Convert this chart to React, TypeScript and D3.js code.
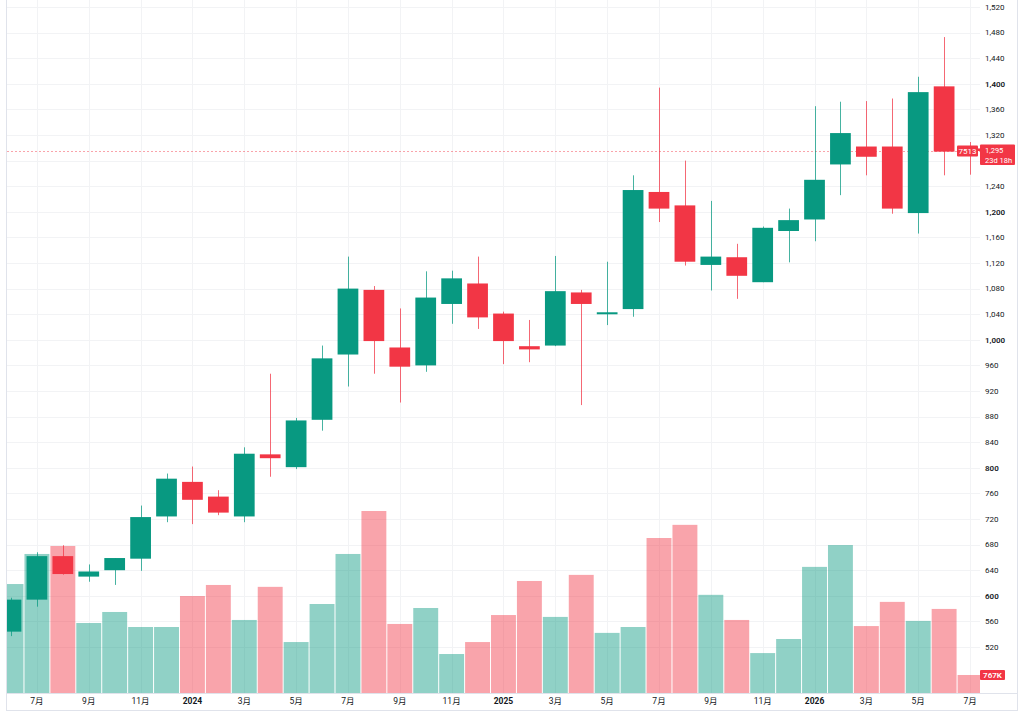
import React, { useEffect, useRef } from 'react';
import * as d3 from 'd3';

// monthly bars, 2023-06 .. 2026-07
const months: string[] = [
  '2023-06', '2023-07', '2023-08', '2023-09', '2023-10', '2023-11', '2023-12',
  '2024-01', '2024-02', '2024-03', '2024-04', '2024-05', '2024-06', '2024-07',
  '2024-08', '2024-09', '2024-10', '2024-11', '2024-12',
  '2025-01', '2025-02', '2025-03', '2025-04', '2025-05', '2025-06', '2025-07',
  '2025-08', '2025-09', '2025-10', '2025-11', '2025-12',
  '2026-01', '2026-02', '2026-03', '2026-04', '2026-05', '2026-06', '2026-07',
];

const opens: number[] = [
  544, 594, 662, 630, 640, 658, 724,
  778, 755, 724, 821, 801, 875, 977, 1078, 988, 960, 1056, 1088,
  1041, 990, 991, 1074, 1040, 1048, 1231, 1210, 1117, 1129, 1090, 1170,
  1188, 1274, 1302, 1302, 1198, 1396, 1299,
];
const highs: number[] = [
  597, 668, 679, 649, 659, 741, 791,
  802, 765, 832, 947, 878, 991, 1130, 1084, 1049, 1107, 1108, 1130,
  1044, 1031, 1131, 1078, 1122, 1257, 1394, 1280, 1217, 1150, 1177, 1205,
  1365, 1372, 1373, 1377, 1411, 1473, 1309,
];
const lows: number[] = [
  537, 583, 633, 622, 617, 639, 715,
  712, 726, 715, 786, 798, 858, 927, 947, 902, 950, 1025, 1017,
  962, 965, 990, 898, 1023, 1036, 1184, 1116, 1077, 1064, 1090, 1121,
  1154, 1226, 1257, 1197, 1166, 1257, 1258,
];
const closes: number[] = [
  594, 662, 634, 638, 659, 723, 783,
  750, 730, 822, 815, 874, 971, 1080, 998, 958, 1066, 1096, 1035,
  998, 985, 1076, 1056, 1043, 1234, 1205, 1122, 1130, 1100, 1175, 1187,
  1250, 1323, 1286, 1205, 1387, 1294, 1295,
];
// volume in thousands of shares
const volumes: number[] = [
  4640, 5920, 6260, 2980, 3450, 2810, 2810,
  4130, 4600, 3110, 4520, 2170, 3790, 5920, 7750, 2940, 3620, 1660, 2170,
  3320, 4770, 3240, 5030, 2560, 2810, 6600, 7160, 4180, 3110, 1700, 2300,
  5370, 6300, 2850, 3880, 3070, 3580, 767,
];

const priceTicks: number[] = d3.range(520, 1521, 40);
const boldPrices: number[] = [600, 800, 1000, 1200, 1400];
const symbol = '7513';
const countdown = '23d 18h';

const GREEN = '#089981';
const RED = '#F23645';
const GREEN_VOL = 'rgba(8,153,129,0.45)';
const RED_VOL = 'rgba(242,54,69,0.45)';
const GRID = '#f2f3f5';
const BORDER = '#e0e3eb';
const TEXT = '#131722';
const FONT = "Roboto, 'Noto Sans CJK JP', sans-serif";

const App: React.FC = () => {
  const ref = useRef<SVGSVGElement | null>(null);

  useEffect(() => {
    if (!ref.current) return;
    const W = 1024;
    const H = 712;
    const plot = { left: 7, right: 980, top: 0, bottom: 693 };

    const svg = d3.select(ref.current);
    svg.selectAll('*').remove();
    svg.attr('width', W).attr('height', H);

    svg.append('rect').attr('width', W).attr('height', H).attr('fill', '#fff');

    const data = months.map((m, i) => ({
      m,
      o: opens[i],
      h: highs[i],
      l: lows[i],
      c: closes[i],
      v: volumes[i],
      up: closes[i] >= opens[i],
    }));

    // month band; first bar is half cut by the left edge
    const step = 25.92;
    const x = d3
      .scaleBand<string>()
      .domain(months)
      .range([11 - step / 2, 11 - step / 2 + step * months.length])
      .padding(0);
    const cx = (m: string) => (x(m) || 0) + x.bandwidth() / 2;

    const y = d3.scaleLinear().domain([520, 1520]).range([647, 7]);
    const yVol = d3
      .scaleLinear()
      .domain([0, d3.max(volumes) || 0])
      .range([plot.bottom, 511]);

    svg
      .append('defs')
      .append('clipPath')
      .attr('id', 'plot-clip')
      .append('rect')
      .attr('x', plot.left)
      .attr('y', plot.top)
      .attr('width', plot.right - plot.left)
      .attr('height', plot.bottom - plot.top);

    // grid
    const grid = svg.append('g');
    grid
      .selectAll('.hgrid')
      .data(priceTicks)
      .enter()
      .append('line')
      .attr('x1', plot.left)
      .attr('x2', plot.right)
      .attr('y1', (d) => Math.round(y(d)) + 0.5)
      .attr('y2', (d) => Math.round(y(d)) + 0.5)
      .attr('stroke', GRID);

    const timeTicks = months.filter((_, i) => i % 2 === 1);
    grid
      .selectAll('.vgrid')
      .data(timeTicks)
      .enter()
      .append('line')
      .attr('x1', (d) => Math.round(cx(d)) + 0.5)
      .attr('x2', (d) => Math.round(cx(d)) + 0.5)
      .attr('y1', plot.top)
      .attr('y2', plot.bottom)
      .attr('stroke', GRID);

    const body = svg.append('g').attr('clip-path', 'url(#plot-clip)');

    // volume
    body
      .selectAll('.vol')
      .data(data)
      .enter()
      .append('rect')
      .attr('x', (d) => (x(d.m) || 0) + 0.5)
      .attr('width', x.bandwidth() - 1)
      .attr('y', (d) => yVol(d.v))
      .attr('height', (d) => plot.bottom - yVol(d.v))
      .attr('fill', (d) => (d.up ? GREEN_VOL : RED_VOL));

    // current price line
    const last = data[data.length - 1];
    body
      .append('line')
      .attr('x1', plot.left)
      .attr('x2', plot.right)
      .attr('y1', Math.round(y(last.c)) + 0.5)
      .attr('y2', Math.round(y(last.c)) + 0.5)
      .attr('stroke', RED)
      .attr('stroke-opacity', 0.45)
      .attr('stroke-dasharray', '2 2');

    // candles
    const bw = x.bandwidth() * 0.8;
    body
      .selectAll('.wick')
      .data(data)
      .enter()
      .append('line')
      .attr('x1', (d) => Math.round(cx(d.m)) + 0.5)
      .attr('x2', (d) => Math.round(cx(d.m)) + 0.5)
      .attr('y1', (d) => y(d.h))
      .attr('y2', (d) => y(d.l))
      .attr('stroke', (d) => (d.up ? GREEN : RED))
      .attr('stroke-opacity', 0.75);

    body
      .selectAll('.candle')
      .data(data)
      .enter()
      .append('rect')
      .attr('x', (d) => cx(d.m) - bw / 2)
      .attr('width', bw)
      .attr('y', (d) => y(Math.max(d.o, d.c)))
      .attr('height', (d) => Math.max(2, Math.abs(y(d.o) - y(d.c))))
      .attr('fill', (d) => (d.up ? GREEN : RED));

    // price axis; ticks under the last-price tag are hidden
    const py = y(last.c);
    const shownTicks = priceTicks.filter((t) => Math.abs(y(t) - (py + 3.5)) > 13);
    svg
      .append('g')
      .selectAll('text')
      .data(shownTicks)
      .enter()
      .append('text')
      .attr('x', 985)
      .attr('y', (d) => y(d))
      .attr('dy', '0.35em')
      .attr('font-family', FONT)
      .attr('font-size', 8)
      .attr('font-weight', (d) => (boldPrices.includes(d) ? 600 : 400))
      .attr('fill', TEXT)
      .text((d) => d3.format(',')(d));

    // time axis
    svg
      .append('g')
      .selectAll('text')
      .data(timeTicks)
      .enter()
      .append('text')
      .attr('x', (d) => cx(d))
      .attr('y', 701)
      .attr('dy', '0.35em')
      .attr('text-anchor', 'middle')
      .attr('font-family', FONT)
      .attr('font-size', 8.5)
      .attr('font-weight', (d) => (d.endsWith('-01') ? 700 : 400))
      .attr('fill', TEXT)
      .text((d) => {
        const [yr, mo] = d.split('-');
        return mo === '01' ? yr : `${+mo}月`;
      });

    // borders
    svg
      .append('line')
      .attr('x1', plot.left)
      .attr('x2', 1017)
      .attr('y1', plot.bottom + 0.5)
      .attr('y2', plot.bottom + 0.5)
      .attr('stroke', BORDER);
    svg
      .append('rect')
      .attr('x', 6.5)
      .attr('y', -1)
      .attr('width', 1011)
      .attr('height', 711.5)
      .attr('fill', 'none')
      .attr('stroke', BORDER);

    // last price label + symbol tag
    svg
      .append('rect')
      .attr('x', 957)
      .attr('y', py - 5.5)
      .attr('width', 21)
      .attr('height', 11)
      .attr('rx', 1)
      .attr('fill', RED);
    svg
      .append('text')
      .attr('x', 967.5)
      .attr('y', py)
      .attr('dy', '0.35em')
      .attr('text-anchor', 'middle')
      .attr('font-family', FONT)
      .attr('font-size', 8)
      .attr('fill', '#fff')
      .text(symbol);

    svg
      .append('rect')
      .attr('x', 980)
      .attr('y', py - 6.5)
      .attr('width', 35)
      .attr('height', 20.5)
      .attr('rx', 1)
      .attr('fill', RED);
    svg
      .append('text')
      .attr('x', 985)
      .attr('y', py - 0.5)
      .attr('dy', '0.35em')
      .attr('font-family', FONT)
      .attr('font-size', 7.5)
      .attr('fill', '#fff')
      .text(d3.format(',')(last.c));
    svg
      .append('text')
      .attr('x', 985)
      .attr('y', py + 9)
      .attr('dy', '0.35em')
      .attr('font-family', FONT)
      .attr('font-size', 7.5)
      .attr('fill', '#fff')
      .text(countdown);

    // last volume label
    const vy = yVol(last.v);
    svg
      .append('rect')
      .attr('x', 980)
      .attr('y', vy - 5)
      .attr('width', 25)
      .attr('height', 10)
      .attr('rx', 1)
      .attr('fill', RED);
    svg
      .append('text')
      .attr('x', 992.5)
      .attr('y', vy)
      .attr('dy', '0.35em')
      .attr('text-anchor', 'middle')
      .attr('font-family', FONT)
      .attr('font-size', 8)
      .attr('font-weight', 600)
      .attr('fill', '#fff')
      .text(`${last.v}K`);
  }, []);

  return (
    <svg
      ref={ref}
      style={{ position: 'absolute', left: 0, top: 0, display: 'block' }}
    ></svg>
  );
};

export default App;
